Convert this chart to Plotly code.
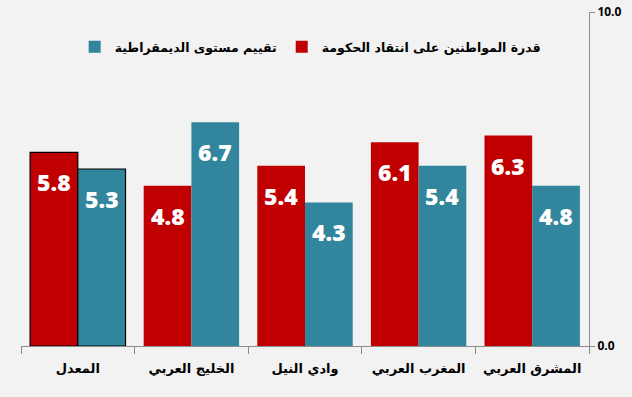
import plotly.graph_objects as go

categories = ["المعدل", "الخليج العربي", "وادي النيل", "المغرب العربي", "المشرق العربي"]
series_names = ["قدرة المواطنين على انتقاد الحكومة", "تقييم مستوى الديمقراطية"]
criticize = [5.8, 4.8, 5.4, 6.1, 6.3]
democracy = [5.3, 6.7, 4.3, 5.4, 4.8]
y_ticks = [0, 10]
y_tick_labels = ["0.0", "10.0"]

RED = "#c00000"
TEAL = "#31859c"
FONT = "DejaVu Sans"

outline_w = [1.2, 0, 0, 0, 0]

W, H = 632, 397
ML, MR, MT, MB = 21, 43, 12, 51
BARGAP = 0.16

# draw order: outlined category last so the legend swatch has no outline
order = list(range(1, len(categories))) + [0]

fig = go.Figure()
for name, vals, col in [(series_names[0], criticize, RED), (series_names[1], democracy, TEAL)]:
    fig.add_trace(go.Bar(
        x=[categories[i] for i in order], y=[vals[i] for i in order], name=name,
        marker=dict(color=col, line=dict(color="black", width=[outline_w[i] for i in order])),
    ))

# value labels inside the top of each bar (offset computed from layout geometry)
cat_px = (W - ML - MR) / len(categories)
bar_px = cat_px * (1 - BARGAP) / 2
for sign, vals in [(-1, criticize), (1, democracy)]:
    for c, v in zip(categories, vals):
        fig.add_annotation(
            x=c, y=v, xref="x", yref="y", text=f"{v:.1f}", showarrow=False,
            xshift=sign * bar_px / 2, yshift=-30, yanchor="middle",
            font=dict(family="Open Sans", size=23, color="white", weight=800),
        )

fig.update_layout(
    width=W, height=H,
    paper_bgcolor="#f2f2f2", plot_bgcolor="#f2f2f2",
    margin=dict(l=ML, r=MR, t=MT, b=MB, autoexpand=False),
    barmode="group", bargap=BARGAP, bargroupgap=0,
    font=dict(family=FONT, color="black"),
    showlegend=True,
    legend=dict(orientation="h", x=0.51, xanchor="center", y=0.895, yanchor="middle",
                traceorder="reversed", bgcolor="rgba(0,0,0,0)",
                font=dict(family=FONT, size=12.5, color="black", weight="bold"),
                itemwidth=30),
)
fig.update_xaxes(
    automargin=False,
    categoryorder="array", categoryarray=categories,
    showline=True, linecolor="#8c8c8c", linewidth=1,
    ticks="outside", tickson="boundaries", ticklen=7, tickcolor="#8c8c8c",
    ticklabelstandoff=10,
    showgrid=False, zeroline=False,
    tickfont=dict(family=FONT, size=13, color="black", weight="bold"),
)
fig.update_yaxes(
    automargin=False,
    side="right", range=[0, 10], tickvals=y_ticks, ticktext=y_tick_labels,
    showline=True, linecolor="#8c8c8c", linewidth=1,
    ticks="outside", ticklen=5, tickcolor="#8c8c8c",
    showgrid=False, zeroline=False,
    tickfont=dict(family="Open Sans", size=12, color="black", weight="bold"),
)

fig.write_html("out.html", config={"displayModeBar": False},
               post_script="document.body.style.margin='0px';document.body.style.background='#f2f2f2';")
